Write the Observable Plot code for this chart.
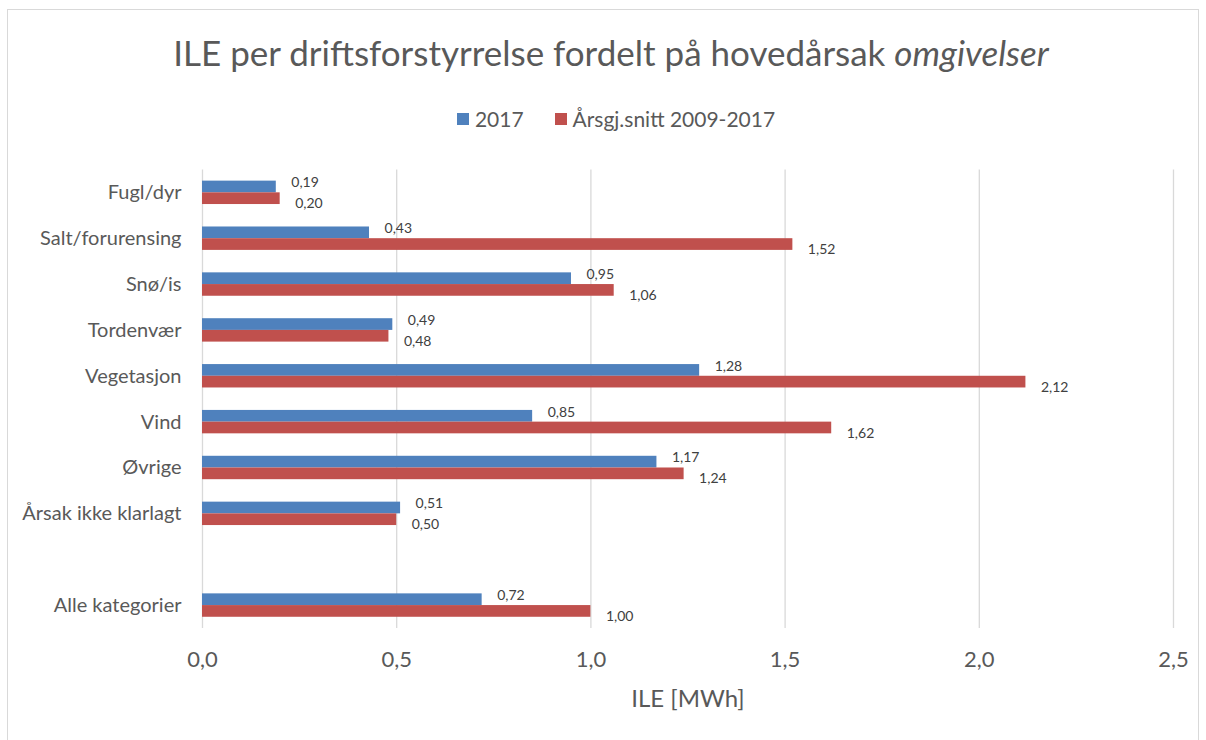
<!DOCTYPE html>
<html><head><meta charset="utf-8">
<script src="https://cdn.jsdelivr.net/npm/d3@7"></script>
<script src="https://cdn.jsdelivr.net/npm/@observablehq/plot@0.6"></script>
<style>
body{margin:0;background:#fff;font-family:Lato,"Open Sans",sans-serif;}
#wrap{position:relative;width:1206px;height:740px;overflow:hidden;background:#fff;}
#frame{position:absolute;left:7px;top:9px;width:1192px;height:745px;border:1px solid #d9d9d9;box-sizing:border-box;}
#title{position:absolute;top:35px;left:8px;width:1206px;text-align:center;font-size:35px;line-height:1;color:#595959;white-space:nowrap;}
#legend{position:absolute;top:106px;left:13px;width:1206px;height:22px;text-align:center;font-size:21px;line-height:22px;color:#595959;white-space:nowrap;}
#legend .item{display:inline-flex;align-items:center;margin:0 15.5px;}
#legend .sw{display:inline-block;width:12px;height:12px;margin-right:6px;}
#chart{position:absolute;top:150px;left:0;line-height:0;}
</style></head>
<body>
<div id="wrap">
  <div id="frame"></div>
  <div id="title">ILE per driftsforstyrrelse fordelt på hovedårsak <i>omgivelser</i></div>
  <div id="legend"></div>
  <div id="chart"></div>
</div>
<script>
const categories = ["Fugl/dyr","Salt/forurensing","Snø/is","Tordenvær","Vegetasjon","Vind","Øvrige","Årsak ikke klarlagt"," ","Alle kategorier"];
const series = ["2017","Årsgj.snitt 2009-2017"];
const values2017 = [0.19,0.43,0.95,0.49,1.28,0.85,1.17,0.51,null,0.72];
const valuesAvg = [0.20,1.52,1.06,0.48,2.12,1.62,1.24,0.50,null,1.00];
const xTicks = [0,0.5,1,1.5,2,2.5];
const colors = ["#4f81bd","#c0504d"];

const rows = [];
categories.forEach((c,i)=>{
  if (values2017[i]!=null) rows.push({category:c, series:series[0], value:values2017[i]});
  if (valuesAvg[i]!=null) rows.push({category:c, series:series[1], value:valuesAvg[i]});
});
const s0 = rows.filter(d=>d.series===series[0]);
const s1 = rows.filter(d=>d.series===series[1]);
const comma2 = v => v.toFixed(2).replace(".",",");
const comma1 = v => v.toFixed(1).replace(".",",");

const legend = document.getElementById("legend");
series.forEach((s,i)=>{
  const it=document.createElement("span"); it.className="item";
  it.innerHTML=`<span class="sw" style="background:${colors[i]}"></span>${s}`;
  legend.appendChild(it);
});

const mTop = 19.4, mBottom = 112, H = 590;
const band = (H - mTop - mBottom) / categories.length, bh = 11.7;
const chart = Plot.plot({
  width:1206, height:H,
  marginLeft:202, marginRight:33, marginTop:mTop, marginBottom:mBottom,
  style:{fontFamily:"Lato, 'Open Sans', sans-serif", background:"transparent"},
  x:{domain:[0,2.5]},
  y:{domain:categories, padding:0, round:false},
  color:{domain:series, range:colors},
  marks:[
    Plot.ruleX(xTicks,{stroke:"#d9d9d9", strokeWidth:1.3}),
    Plot.barX(s0,{x:"value", y:"category", fill:"series", insetTop:band/2-bh, insetBottom:band/2}),
    Plot.barX(s1,{x:"value", y:"category", fill:"series", insetTop:band/2, insetBottom:band/2-bh}),
    Plot.text(s0,{x:"value", y:"category", text:d=>comma2(d.value), dx:15, dy:-10, textAnchor:"start", fontSize:14, fill:"#404040"}),
    Plot.text(s1,{x:"value", y:"category", text:d=>comma2(d.value), dx:15, dy:11, textAnchor:"start", fontSize:14, fill:"#404040"}),
    Plot.axisX({ticks:xTicks, tickFormat:comma1, tickSize:0, tickPadding:23, fontSize:22, color:"#595959", label:null}),
    Plot.axisX({ticks:[], tickSize:0, fontSize:24, color:"#595959", label:"ILE [MWh]", labelAnchor:"center", labelOffset:78, labelArrow:"none"}),
    Plot.axisY({tickSize:0, tickPadding:21, fontSize:20, color:"#595959", label:null})
  ]
});
document.getElementById("chart").appendChild(chart);
</script>
</body></html>
